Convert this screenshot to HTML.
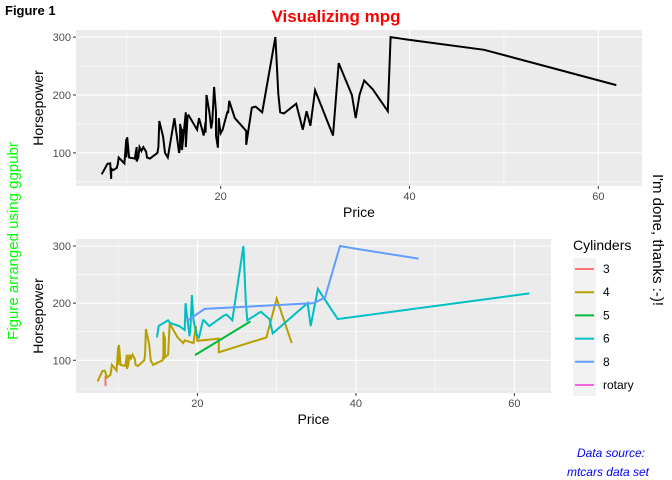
<!DOCTYPE html>
<html><head><meta charset="utf-8">
<style>
body{margin:0;background:#fff;}
svg{display:block;font-family:"Liberation Sans",Arial,sans-serif;}
</style></head>
<body>
<svg id="chart" width="672" height="480">
<text x="5" y="15" font-size="13" font-weight="bold">Figure 1</text>
<text x="336" y="22" font-size="17" font-weight="bold" fill="#FF0000" text-anchor="middle">Visualizing mpg</text>
<text transform="translate(18,241) rotate(-90)" font-size="15" fill="#00FF00" text-anchor="middle">Figure arranged using ggpubr</text>
<text transform="translate(653,240) rotate(90)" font-size="15" fill="#000" text-anchor="middle">I'm done, thanks :-)!</text>
<text x="645" y="457" font-size="12" font-style="italic" fill="#0000FF" text-anchor="end">Data source:</text>
<text x="649" y="476" font-size="12" font-style="italic" fill="#0000FF" text-anchor="end">mtcars data set</text>
<g id="top"></g>
<g id="bot"></g>
<g id="legend"></g>
</svg>
<script>
const price=[15.9,33.9,29.1,37.7,30.0,15.7,20.8,23.7,26.3,34.7,40.1,13.4,11.4,15.1,15.9,16.3,16.6,18.8,38.0,18.4,15.8,29.5,9.2,11.3,13.3,19.0,15.6,25.8,12.2,19.3,7.4,10.1,11.3,15.9,14.0,19.9,20.2,20.9,8.4,12.5,19.8,12.1,17.5,8.0,10.0,10.0,13.9,47.9,28.0,35.2,34.3,36.1,8.3,11.6,16.5,19.1,32.5,31.9,61.9,14.1,14.9,10.3,26.1,11.8,15.7,19.1,21.5,13.5,16.3,19.5,20.7,14.4,9.0,11.1,17.7,18.5,24.4,28.7,11.1,8.4,10.9,19.5,8.6,9.8,18.4,18.2,22.7,9.1,19.7,20.0,23.3,22.7,26.7];
const horsepower=[140,200,172,172,208,110,170,180,170,200,295,110,110,160,110,170,165,170,300,153,141,147,92,93,100,142,100,300,92,214,63,127,96,105,115,145,140,190,55,90,160,102,140,81,124,92,128,278,185,225,160,210,82,103,164,155,255,130,217,100,140,92,202,110,150,151,160,155,110,170,170,92,74,110,160,200,170,140,85,73,90,130,70,82,135,130,138,81,109,134,178,114,168];
const cylinders=["4","6","6","6","4","4","6","6","6","8","8","4","4","6","4","6","6","8","8","6","4","6","4","4","4","6","4","6","4","6","4","4","4","4","4","6","6","8","3","4","4","4","4","4","4","4","4","8","6","6","6","8","4","4","4","6","rotary","4","6","4","6","4","6","4","4","6","6","4","4","6","6","4","4","4","6","6","6","4","4","3","4","4","4","4","4","4","4","4","5","4","6","4","5"];
const cylLevels=["3","4","5","6","8","rotary"];
const cylColors=["#F8766D","#B79F00","#00BA38","#00BFC4","#619CFF","#F564E3"];
const xTicks=[20,40,60];
const yTicks=[100,200,300];

const NS="http://www.w3.org/2000/svg";
function mk(tag,attrs,parent){const e=document.createElementNS(NS,tag);for(const k in attrs)e.setAttribute(k,attrs[k]);parent.appendChild(e);return e;}
const xmin=Math.min(...price),xmax=Math.max(...price),ymin=Math.min(...horsepower),ymax=Math.max(...horsepower);
const xd=[xmin-(xmax-xmin)*0.05,xmax+(xmax-xmin)*0.05],yd=[ymin-(ymax-ymin)*0.05,ymax+(ymax-ymin)*0.05];

function panel(g,L,R,T,B,colored){
  const sx=v=>L+(v-xd[0])/(xd[1]-xd[0])*(R-L);
  const sy=v=>B-(v-yd[0])/(yd[1]-yd[0])*(B-T);
  const bg=mk('rect',{x:L,y:T,width:R-L,height:B-T,fill:'#EBEBEB'},g);
  
  const step=xTicks[1]-xTicks[0],ys=yTicks[1]-yTicks[0];
  for(let v=xTicks[0]-step/2;v<=xd[1];v+=step/2){if(v<xd[0])continue;const major=xTicks.includes(v);
    const l=mk('line',{x1:sx(v),x2:sx(v),y1:T,y2:B,stroke:'#fff','stroke-width':major?1.1:0.55},g);
    }
  for(let v=yTicks[0]-ys/2;v<=yd[1];v+=ys/2){if(v<yd[0])continue;const major=yTicks.includes(v);
    const l=mk('line',{x1:L,x2:R,y1:sy(v),y2:sy(v),stroke:'#fff','stroke-width':major?1.1:0.55},g);
    }
  xTicks.forEach(v=>{mk('line',{x1:sx(v),x2:sx(v),y1:B,y2:B+3,stroke:'#333'},g);
    const t=mk('text',{x:sx(v),y:B+14,'font-size':11,fill:'#4D4D4D','text-anchor':'middle'},g);t.textContent=v;
    });
  yTicks.forEach(v=>{mk('line',{x1:L-3,x2:L,y1:sy(v),y2:sy(v),stroke:'#333'},g);
    const t=mk('text',{x:L-5,y:sy(v)+4,'font-size':11,fill:'#4D4D4D','text-anchor':'end'},g);t.textContent=v;
    });
  const xt=mk('text',{x:(L+R)/2,y:B+31,'font-size':14,'text-anchor':'middle'},g);xt.textContent='Price';
  
  const yt=mk('text',{transform:`translate(${L-33},${(T+B)/2}) rotate(-90)`,'font-size':14,'text-anchor':'middle'},g);yt.textContent='Horsepower';
  
  const groups=colored?cylLevels:[null];
  groups.forEach((lev,gi)=>{
    const idx=price.map((p,i)=>i).filter(i=>lev===null||cylinders[i]===lev).sort((a,b)=>price[a]-price[b]||a-b);
    if(idx.length<2)return;
    const d=idx.map((i,k)=>(k?'L':'M')+sx(price[i]).toFixed(1)+','+sy(horsepower[i]).toFixed(1)).join('');
    const p=mk('path',{d:d,fill:'none',stroke:colored?cylColors[gi]:'#000','stroke-width':2},g);
    
    
  });
}
panel(document.getElementById('top'),76,642,30,186,false);
panel(document.getElementById('bot'),76,551,239,393,true);

const lg=document.getElementById('legend');
const lt=mk('text',{x:573,y:250,'font-size':14},lg);lt.textContent='Cylinders';

mk('rect',{x:573,y:258,width:23,height:138,fill:'#F2F2F2'},lg);
cylLevels.forEach((lev,i)=>{const y=269+i*23.2;
  const e=mk('g',{},lg);
  
  mk('line',{x1:575,x2:594,y1:y,y2:y,stroke:cylColors[i],'stroke-width':2},e);
  const t=mk('text',{x:603,y:y+4,'font-size':12},e);t.textContent=lev;
});
</script>
</body></html>
